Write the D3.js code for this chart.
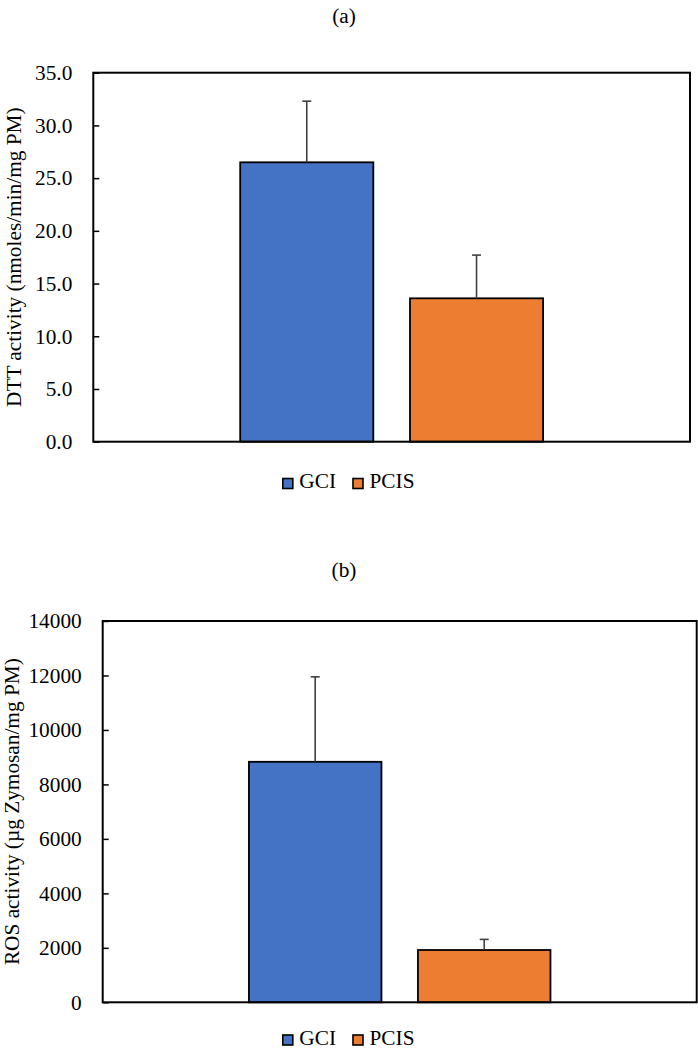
<!DOCTYPE html>
<html>
<head>
<meta charset="utf-8">
<script src="https://cdn.jsdelivr.net/npm/d3@7"></script>
<style>
  html, body { margin: 0; padding: 0; background: #fff; }
  svg { display: block; }
  text { font-family: "Liberation Serif", "Times New Roman", serif; fill: #000; }
</style>
</head>
<body>
<svg id="chart" width="698" height="1050"></svg>
<script>
// ---- data ----
const series = ["GCI", "PCIS"];
const seriesColors = ["#4472C4", "#ED7D31"];
const category = ["sample"];

const dttValues = [26.5, 13.6];
const dttErrors = [5.8, 4.1];
const dttTicks = [0, 5, 10, 15, 20, 25, 30, 35];

const rosValues = [8830, 1920];
const rosErrors = [3120, 390];
const rosTicks = [0, 2000, 4000, 6000, 8000, 10000, 12000, 14000];

const panelTitles = ["(a)", "(b)"];
const yTitles = ["DTT activity (nmoles/min/mg PM)", "ROS activity (\u00b5g Zymosan/mg PM)"];

// ---- drawing ----
const svg = d3.select("#chart");
const FS = 21.3;

function panel(cfg) {
  const g = svg.append("g");
  const w = cfg.right - cfg.left;
  const y = d3.scaleLinear().domain([0, cfg.max]).range([cfg.bottom, cfg.top]);
  const x0 = d3.scaleBand().domain(category).range([cfg.left, cfg.right])
    .paddingInner(0).paddingOuter(0.485);
  const x1 = d3.scaleBand().domain(series).range([0, x0.bandwidth()]).paddingInner(0.216);

  // panel title
  g.append("text").attr("x", cfg.titleX).attr("y", cfg.titleY)
    .attr("text-anchor", "middle").style("font-size", FS + "px").text(cfg.title);

  // y axis
  const ax = g.append("g").attr("transform", `translate(${cfg.left},0)`)
    .call(d3.axisLeft(y).tickValues(cfg.ticks).tickSize(-6).tickPadding(21)
      .tickFormat(cfg.fmt));
  ax.select(".domain").remove();
  ax.selectAll(".tick line").attr("stroke", "#000").attr("stroke-width", 1.5);
  ax.selectAll(".tick text").style("font-size", FS + "px")
    .style("font-family", '"Liberation Serif", "Times New Roman", serif')
    .attr("fill", "#000");

  // y title
  g.append("text")
    .attr("transform", `translate(${cfg.yTitleX},${(cfg.top + cfg.bottom) / 2}) rotate(-90)`)
    .attr("text-anchor", "middle").style("font-size", FS + "px").text(cfg.yTitle);

  // bars
  const cat = category[0];
  const data = series.map((s, i) => ({ s, v: cfg.values[i], e: cfg.errors[i], c: seriesColors[i] }));
  g.selectAll("rect.bar").data(data).enter().append("rect")
    .attr("class", "bar")
    .attr("x", d => x0(cat) + x1(d.s))
    .attr("width", x1.bandwidth())
    .attr("y", d => y(d.v))
    .attr("height", d => y(0) - y(d.v))
    .attr("fill", d => d.c)
    .attr("stroke", "#000").attr("stroke-width", 1.8);

  // error bars (plus only)
  const eb = g.selectAll("g.err").data(data).enter().append("g").attr("class", "err");
  eb.append("line")
    .attr("x1", d => x0(cat) + x1(d.s) + x1.bandwidth() / 2)
    .attr("x2", d => x0(cat) + x1(d.s) + x1.bandwidth() / 2)
    .attr("y1", d => y(d.v)).attr("y2", d => y(d.v + d.e))
    .attr("stroke", "#404040").attr("stroke-width", 1.6);
  eb.append("line")
    .attr("x1", d => x0(cat) + x1(d.s) + x1.bandwidth() / 2 - 4.5)
    .attr("x2", d => x0(cat) + x1(d.s) + x1.bandwidth() / 2 + 4.5)
    .attr("y1", d => y(d.v + d.e)).attr("y2", d => y(d.v + d.e))
    .attr("stroke", "#404040").attr("stroke-width", 1.6);

  // frame
  g.append("rect").attr("x", cfg.left).attr("y", cfg.top)
    .attr("width", w).attr("height", cfg.bottom - cfg.top)
    .attr("fill", "none").attr("stroke", "#000").attr("stroke-width", 2);

  // legend
  const lg = g.append("g").attr("transform", `translate(${cfg.legendX},${cfg.legendY})`);
  let cx = 0;
  series.forEach((s, i) => {
    lg.append("rect").attr("x", cx + 0.5).attr("y", -9.5).attr("width", 10).attr("height", 10)
      .attr("fill", seriesColors[i]).attr("stroke", "#000").attr("stroke-width", 1.6);
    const t = lg.append("text").attr("x", cx + 17).attr("y", 0)
      .style("font-size", FS + "px").text(s);
    cx += 17 + t.node().getComputedTextLength() + 16.5;
  });
}

panel({
  left: 93.3, right: 690, top: 72.7, bottom: 441.7, max: 35,
  ticks: dttTicks, fmt: d3.format(".1f"),
  values: dttValues, errors: dttErrors,
  title: panelTitles[0], titleX: 344, titleY: 23,
  yTitle: yTitles[0], yTitleX: 20.5,
  legendX: 282.3, legendY: 488
});

panel({
  left: 102.7, right: 696.7, top: 621, bottom: 1002.3, max: 14000,
  ticks: rosTicks, fmt: d3.format("d"),
  values: rosValues, errors: rosErrors,
  title: panelTitles[1], titleX: 344, titleY: 577,
  yTitle: yTitles[1], yTitleX: 19,
  legendX: 282.3, legendY: 1044.5
});
</script>
</body>
</html>
